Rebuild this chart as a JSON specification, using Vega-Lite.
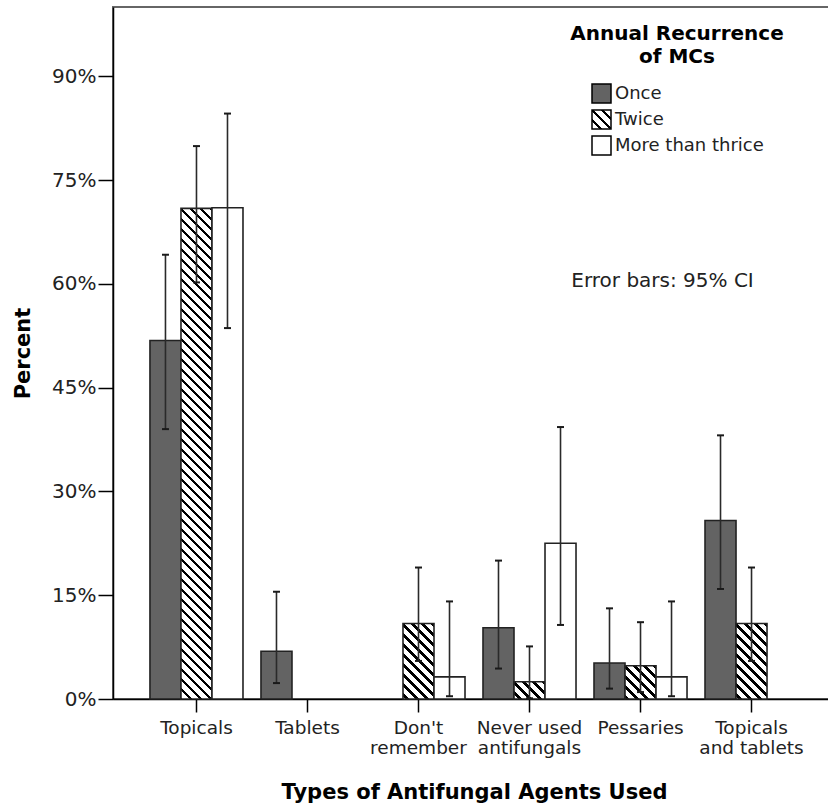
{
  "$schema": "https://vega.github.io/schema/vega-lite/v6.json",
  "width": 722,
  "height": 692,
  "autosize": {"type": "none"},
  "padding": {"left": 113, "top": 7, "right": 0, "bottom": 108},
  "background": "white",
  "config": {
    "font": "DejaVu Sans",
    "view": {"stroke": "#666", "strokeWidth": 2},
    "axis": {"grid": false, "domainColor": "#000", "domainWidth": 1.5, "tickColor": "#000", "tickWidth": 1.5, "labelColor": "#222", "titleColor": "#000", "labelFont": "DejaVu Sans", "titleFont": "DejaVu Sans", "titleFontWeight": "bold"}
  },
  "data": {"values": [
    {"Agent": "Topicals", "Recurrence": "Once", "Percent": 51.8, "Lo": 39.0, "Hi": 64.2},
    {"Agent": "Topicals", "Recurrence": "Twice", "Percent": 70.9, "Lo": 60.2, "Hi": 79.9},
    {"Agent": "Topicals", "Recurrence": "More than thrice", "Percent": 71.0, "Lo": 53.6, "Hi": 84.6},
    {"Agent": "Tablets", "Recurrence": "Once", "Percent": 6.9, "Lo": 2.3, "Hi": 15.5},
    {"Agent": "Don't remember", "Recurrence": "Twice", "Percent": 10.9, "Lo": 5.5, "Hi": 19.0},
    {"Agent": "Don't remember", "Recurrence": "More than thrice", "Percent": 3.2, "Lo": 0.4, "Hi": 14.1},
    {"Agent": "Never used antifungals", "Recurrence": "Once", "Percent": 10.3, "Lo": 4.4, "Hi": 20.0},
    {"Agent": "Never used antifungals", "Recurrence": "Twice", "Percent": 2.5, "Lo": 0.1, "Hi": 7.6},
    {"Agent": "Never used antifungals", "Recurrence": "More than thrice", "Percent": 22.5, "Lo": 10.7, "Hi": 39.3},
    {"Agent": "Pessaries", "Recurrence": "Once", "Percent": 5.2, "Lo": 1.5, "Hi": 13.1},
    {"Agent": "Pessaries", "Recurrence": "Twice", "Percent": 4.8, "Lo": 1.0, "Hi": 11.1},
    {"Agent": "Pessaries", "Recurrence": "More than thrice", "Percent": 3.2, "Lo": 0.4, "Hi": 14.1},
    {"Agent": "Topicals and tablets", "Recurrence": "Once", "Percent": 25.8, "Lo": 15.9, "Hi": 38.1},
    {"Agent": "Topicals and tablets", "Recurrence": "Twice", "Percent": 10.9, "Lo": 5.5, "Hi": 19.0}
  ]},
  "layer": [
    {
      "mark": {"type": "bar", "stroke": "#222", "strokeWidth": 1.6},
      "encoding": {
        "x": {"field": "Agent", "type": "nominal", "title": "Types of Antifungal Agents Used",
              "sort": ["Topicals", "Tablets", "Don't remember", "Never used antifungals", "Pessaries", "Topicals and tablets"],
              "scale": {"domain": ["Topicals", "Tablets", "Don't remember", "Never used antifungals", "Pessaries", "Topicals and tablets"], "paddingInner": 0, "paddingOuter": 0.252},
              "axis": {"labelAngle": 0, "labelFontSize": 18.5, "labelLineHeight": 20, "tickSize": 13, "labelPadding": 6, "titleFontSize": 21, "titlePadding": 25, "labelLimit": 0,
                       "labelExpr": "datum.value == \"Don't remember\" ? [\"Don't\", 'remember'] : datum.value == 'Never used antifungals' ? ['Never used', 'antifungals'] : datum.value == 'Topicals and tablets' ? ['Topicals', 'and tablets'] : datum.value"}},
        "xOffset": {"field": "Recurrence", "type": "nominal", "scale": {"domain": ["Once", "Twice", "More than thrice"], "paddingInner": 0, "paddingOuter": 0.29}},
        "y": {"field": "Percent", "type": "quantitative", "title": "Percent",
              "scale": {"domain": [0, 100], "nice": false},
              "axis": {"values": [0, 15, 30, 45, 60, 75, 90], "labelExpr": "datum.value + '%'", "labelFontSize": 20, "tickSize": 15, "labelPadding": 2, "titleFontSize": 21, "titlePadding": 18}},
        "fill": {
          "field": "Recurrence", "type": "nominal",
          "scale": {"domain": ["Once", "Twice", "More than thrice"],
                    "range": ["#636363", {"expr": "{gradient:'linear',x1:1,y1:0,x2:0,y2:1,stops:[{offset:0,color:'#000'},{offset:0.02,color:'#000'},{offset:0.02,color:'#fff'},{offset:0.191,color:'#fff'},{offset:0.191,color:'#000'},{offset:0.283,color:'#000'},{offset:0.283,color:'#fff'},{offset:0.454,color:'#fff'},{offset:0.454,color:'#000'},{offset:0.546,color:'#000'},{offset:0.546,color:'#fff'},{offset:0.717,color:'#fff'},{offset:0.717,color:'#000'},{offset:0.809,color:'#000'},{offset:0.809,color:'#fff'},{offset:0.98,color:'#fff'},{offset:0.98,color:'#000'},{offset:1,color:'#000'}]}"}, "#ffffff"]},
          "legend": {"orient": "none", "legendX": 457, "legendY": 17, "title": ["Annual Recurrence", "of MCs"], "titleFontSize": 20, "titleFontWeight": "bold", "titleColor": "#000", "titleAlign": "center", "titleAnchor": "middle", "titleBaseline": "top", "titleLineHeight": 23, "titlePadding": 16, "titleLimit": 0, "titleFont": "DejaVu Sans", "symbolType": "square", "symbolSize": 361, "symbolStrokeColor": "#000", "symbolStrokeWidth": 1.5, "symbolOffset": 0, "labelOffset": 3, "labelFontSize": 18, "labelColor": "#222", "labelFont": "DejaVu Sans", "rowPadding": 1, "padding": 0},
          "condition": [
            {"test": "datum.Recurrence === 'Twice' && datum.Percent > 50", "value": {"gradient": "linear", "x1": 1, "y1": 0, "x2": 0.9331, "y2": 1.059, "stops": [
              {"offset":0,"color":"#000"},{"offset":0.0067,"color":"#000"},{"offset":0.0067,"color":"#fff"},{"offset":0.0192,"color":"#fff"},
              {"offset":0.0192,"color":"#000"},{"offset":0.0259,"color":"#000"},{"offset":0.0259,"color":"#fff"},{"offset":0.0383,"color":"#fff"},
              {"offset":0.0383,"color":"#000"},{"offset":0.045,"color":"#000"},{"offset":0.045,"color":"#fff"},{"offset":0.0575,"color":"#fff"},
              {"offset":0.0575,"color":"#000"},{"offset":0.0642,"color":"#000"},{"offset":0.0642,"color":"#fff"},{"offset":0.0767,"color":"#fff"},
              {"offset":0.0767,"color":"#000"},{"offset":0.0834,"color":"#000"},{"offset":0.0834,"color":"#fff"},{"offset":0.0959,"color":"#fff"},
              {"offset":0.0959,"color":"#000"},{"offset":0.1026,"color":"#000"},{"offset":0.1026,"color":"#fff"},{"offset":0.115,"color":"#fff"},
              {"offset":0.115,"color":"#000"},{"offset":0.1217,"color":"#000"},{"offset":0.1217,"color":"#fff"},{"offset":0.1342,"color":"#fff"},
              {"offset":0.1342,"color":"#000"},{"offset":0.1409,"color":"#000"},{"offset":0.1409,"color":"#fff"},{"offset":0.1534,"color":"#fff"},
              {"offset":0.1534,"color":"#000"},{"offset":0.1601,"color":"#000"},{"offset":0.1601,"color":"#fff"},{"offset":0.1725,"color":"#fff"},
              {"offset":0.1725,"color":"#000"},{"offset":0.1792,"color":"#000"},{"offset":0.1792,"color":"#fff"},{"offset":0.1917,"color":"#fff"},
              {"offset":0.1917,"color":"#000"},{"offset":0.1984,"color":"#000"},{"offset":0.1984,"color":"#fff"},{"offset":0.2109,"color":"#fff"},
              {"offset":0.2109,"color":"#000"},{"offset":0.2176,"color":"#000"},{"offset":0.2176,"color":"#fff"},{"offset":0.2301,"color":"#fff"},
              {"offset":0.2301,"color":"#000"},{"offset":0.2368,"color":"#000"},{"offset":0.2368,"color":"#fff"},{"offset":0.2492,"color":"#fff"},
              {"offset":0.2492,"color":"#000"},{"offset":0.2559,"color":"#000"},{"offset":0.2559,"color":"#fff"},{"offset":0.2684,"color":"#fff"},
              {"offset":0.2684,"color":"#000"},{"offset":0.2751,"color":"#000"},{"offset":0.2751,"color":"#fff"},{"offset":0.2876,"color":"#fff"},
              {"offset":0.2876,"color":"#000"},{"offset":0.2943,"color":"#000"},{"offset":0.2943,"color":"#fff"},{"offset":0.3067,"color":"#fff"},
              {"offset":0.3067,"color":"#000"},{"offset":0.3134,"color":"#000"},{"offset":0.3134,"color":"#fff"},{"offset":0.3259,"color":"#fff"},
              {"offset":0.3259,"color":"#000"},{"offset":0.3326,"color":"#000"},{"offset":0.3326,"color":"#fff"},{"offset":0.3451,"color":"#fff"},
              {"offset":0.3451,"color":"#000"},{"offset":0.3518,"color":"#000"},{"offset":0.3518,"color":"#fff"},{"offset":0.3643,"color":"#fff"},
              {"offset":0.3643,"color":"#000"},{"offset":0.371,"color":"#000"},{"offset":0.371,"color":"#fff"},{"offset":0.3834,"color":"#fff"},
              {"offset":0.3834,"color":"#000"},{"offset":0.3901,"color":"#000"},{"offset":0.3901,"color":"#fff"},{"offset":0.4026,"color":"#fff"},
              {"offset":0.4026,"color":"#000"},{"offset":0.4093,"color":"#000"},{"offset":0.4093,"color":"#fff"},{"offset":0.4218,"color":"#fff"},
              {"offset":0.4218,"color":"#000"},{"offset":0.4285,"color":"#000"},{"offset":0.4285,"color":"#fff"},{"offset":0.441,"color":"#fff"},
              {"offset":0.441,"color":"#000"},{"offset":0.4477,"color":"#000"},{"offset":0.4477,"color":"#fff"},{"offset":0.4601,"color":"#fff"},
              {"offset":0.4601,"color":"#000"},{"offset":0.4668,"color":"#000"},{"offset":0.4668,"color":"#fff"},{"offset":0.4793,"color":"#fff"},
              {"offset":0.4793,"color":"#000"},{"offset":0.486,"color":"#000"},{"offset":0.486,"color":"#fff"},{"offset":0.4985,"color":"#fff"},
              {"offset":0.4985,"color":"#000"},{"offset":0.5052,"color":"#000"},{"offset":0.5052,"color":"#fff"},{"offset":0.5176,"color":"#fff"},
              {"offset":0.5176,"color":"#000"},{"offset":0.5243,"color":"#000"},{"offset":0.5243,"color":"#fff"},{"offset":0.5368,"color":"#fff"},
              {"offset":0.5368,"color":"#000"},{"offset":0.5435,"color":"#000"},{"offset":0.5435,"color":"#fff"},{"offset":0.556,"color":"#fff"},
              {"offset":0.556,"color":"#000"},{"offset":0.5627,"color":"#000"},{"offset":0.5627,"color":"#fff"},{"offset":0.5752,"color":"#fff"},
              {"offset":0.5752,"color":"#000"},{"offset":0.5819,"color":"#000"},{"offset":0.5819,"color":"#fff"},{"offset":0.5943,"color":"#fff"},
              {"offset":0.5943,"color":"#000"},{"offset":0.601,"color":"#000"},{"offset":0.601,"color":"#fff"},{"offset":0.6135,"color":"#fff"},
              {"offset":0.6135,"color":"#000"},{"offset":0.6202,"color":"#000"},{"offset":0.6202,"color":"#fff"},{"offset":0.6327,"color":"#fff"},
              {"offset":0.6327,"color":"#000"},{"offset":0.6394,"color":"#000"},{"offset":0.6394,"color":"#fff"},{"offset":0.6518,"color":"#fff"},
              {"offset":0.6518,"color":"#000"},{"offset":0.6585,"color":"#000"},{"offset":0.6585,"color":"#fff"},{"offset":0.671,"color":"#fff"},
              {"offset":0.671,"color":"#000"},{"offset":0.6777,"color":"#000"},{"offset":0.6777,"color":"#fff"},{"offset":0.6902,"color":"#fff"},
              {"offset":0.6902,"color":"#000"},{"offset":0.6969,"color":"#000"},{"offset":0.6969,"color":"#fff"},{"offset":0.7094,"color":"#fff"},
              {"offset":0.7094,"color":"#000"},{"offset":0.7161,"color":"#000"},{"offset":0.7161,"color":"#fff"},{"offset":0.7285,"color":"#fff"},
              {"offset":0.7285,"color":"#000"},{"offset":0.7352,"color":"#000"},{"offset":0.7352,"color":"#fff"},{"offset":0.7477,"color":"#fff"},
              {"offset":0.7477,"color":"#000"},{"offset":0.7544,"color":"#000"},{"offset":0.7544,"color":"#fff"},{"offset":0.7669,"color":"#fff"},
              {"offset":0.7669,"color":"#000"},{"offset":0.7736,"color":"#000"},{"offset":0.7736,"color":"#fff"},{"offset":0.786,"color":"#fff"},
              {"offset":0.786,"color":"#000"},{"offset":0.7927,"color":"#000"},{"offset":0.7927,"color":"#fff"},{"offset":0.8052,"color":"#fff"},
              {"offset":0.8052,"color":"#000"},{"offset":0.8119,"color":"#000"},{"offset":0.8119,"color":"#fff"},{"offset":0.8244,"color":"#fff"},
              {"offset":0.8244,"color":"#000"},{"offset":0.8311,"color":"#000"},{"offset":0.8311,"color":"#fff"},{"offset":0.8436,"color":"#fff"},
              {"offset":0.8436,"color":"#000"},{"offset":0.8503,"color":"#000"},{"offset":0.8503,"color":"#fff"},{"offset":0.8627,"color":"#fff"},
              {"offset":0.8627,"color":"#000"},{"offset":0.8694,"color":"#000"},{"offset":0.8694,"color":"#fff"},{"offset":0.8819,"color":"#fff"},
              {"offset":0.8819,"color":"#000"},{"offset":0.8886,"color":"#000"},{"offset":0.8886,"color":"#fff"},{"offset":0.9011,"color":"#fff"},
              {"offset":0.9011,"color":"#000"},{"offset":0.9078,"color":"#000"},{"offset":0.9078,"color":"#fff"},{"offset":0.9202,"color":"#fff"},
              {"offset":0.9202,"color":"#000"},{"offset":0.9269,"color":"#000"},{"offset":0.9269,"color":"#fff"},{"offset":0.9394,"color":"#fff"},
              {"offset":0.9394,"color":"#000"},{"offset":0.9461,"color":"#000"},{"offset":0.9461,"color":"#fff"},{"offset":0.9586,"color":"#fff"},
              {"offset":0.9586,"color":"#000"},{"offset":0.9653,"color":"#000"},{"offset":0.9653,"color":"#fff"},{"offset":0.9778,"color":"#fff"},
              {"offset":0.9778,"color":"#000"},{"offset":0.9845,"color":"#000"},{"offset":0.9845,"color":"#fff"},{"offset":0.9969,"color":"#fff"},
              {"offset":0.9969,"color":"#000"},{"offset":1,"color":"#000"}
            ]}},
            {"test": "datum.Recurrence === 'Twice' && datum.Percent > 8", "value": {"gradient": "linear", "x1": 1, "y1": 0, "x2": 0.5037, "y2": 1.2071, "stops": [
              {"offset":0,"color":"#000"},{"offset":0.0329,"color":"#000"},{"offset":0.0329,"color":"#fff"},{"offset":0.094,"color":"#fff"},
              {"offset":0.094,"color":"#000"},{"offset":0.1269,"color":"#000"},{"offset":0.1269,"color":"#fff"},{"offset":0.188,"color":"#fff"},
              {"offset":0.188,"color":"#000"},{"offset":0.2209,"color":"#000"},{"offset":0.2209,"color":"#fff"},{"offset":0.282,"color":"#fff"},
              {"offset":0.282,"color":"#000"},{"offset":0.3149,"color":"#000"},{"offset":0.3149,"color":"#fff"},{"offset":0.3759,"color":"#fff"},
              {"offset":0.3759,"color":"#000"},{"offset":0.4088,"color":"#000"},{"offset":0.4088,"color":"#fff"},{"offset":0.4699,"color":"#fff"},
              {"offset":0.4699,"color":"#000"},{"offset":0.5028,"color":"#000"},{"offset":0.5028,"color":"#fff"},{"offset":0.5639,"color":"#fff"},
              {"offset":0.5639,"color":"#000"},{"offset":0.5968,"color":"#000"},{"offset":0.5968,"color":"#fff"},{"offset":0.6579,"color":"#fff"},
              {"offset":0.6579,"color":"#000"},{"offset":0.6908,"color":"#000"},{"offset":0.6908,"color":"#fff"},{"offset":0.7519,"color":"#fff"},
              {"offset":0.7519,"color":"#000"},{"offset":0.7848,"color":"#000"},{"offset":0.7848,"color":"#fff"},{"offset":0.8459,"color":"#fff"},
              {"offset":0.8459,"color":"#000"},{"offset":0.8788,"color":"#000"},{"offset":0.8788,"color":"#fff"},{"offset":0.9398,"color":"#fff"},
              {"offset":0.9398,"color":"#000"},{"offset":0.9727,"color":"#000"},{"offset":0.9727,"color":"#fff"},{"offset":1,"color":"#fff"}
            ]}},
            {"test": "datum.Recurrence === 'Twice' && datum.Percent > 4", "value": {"gradient": "linear", "x1": 1, "y1": 0, "x2": 0.0354, "y2": 1.033, "stops": [
              {"offset":0,"color":"#000"},{"offset":0.0545,"color":"#000"},{"offset":0.0545,"color":"#fff"},{"offset":0.1558,"color":"#fff"},
              {"offset":0.1558,"color":"#000"},{"offset":0.2103,"color":"#000"},{"offset":0.2103,"color":"#fff"},{"offset":0.3115,"color":"#fff"},
              {"offset":0.3115,"color":"#000"},{"offset":0.366,"color":"#000"},{"offset":0.366,"color":"#fff"},{"offset":0.4673,"color":"#fff"},
              {"offset":0.4673,"color":"#000"},{"offset":0.5218,"color":"#000"},{"offset":0.5218,"color":"#fff"},{"offset":0.6231,"color":"#fff"},
              {"offset":0.6231,"color":"#000"},{"offset":0.6776,"color":"#000"},{"offset":0.6776,"color":"#fff"},{"offset":0.7788,"color":"#fff"},
              {"offset":0.7788,"color":"#000"},{"offset":0.8333,"color":"#000"},{"offset":0.8333,"color":"#fff"},{"offset":0.9346,"color":"#fff"},
              {"offset":0.9346,"color":"#000"},{"offset":0.9891,"color":"#000"},{"offset":0.9891,"color":"#fff"},{"offset":1,"color":"#fff"}
            ]}},
            {"test": "datum.Recurrence === 'Twice'", "value": {"gradient": "linear", "x1": 1, "y1": 0, "x2": -0.1881, "y2": 0.663, "stops": [
              {"offset":0,"color":"#000"},{"offset":0.0725,"color":"#000"},{"offset":0.0725,"color":"#fff"},{"offset":0.207,"color":"#fff"},
              {"offset":0.207,"color":"#000"},{"offset":0.2795,"color":"#000"},{"offset":0.2795,"color":"#fff"},{"offset":0.4141,"color":"#fff"},
              {"offset":0.4141,"color":"#000"},{"offset":0.4866,"color":"#000"},{"offset":0.4866,"color":"#fff"},{"offset":0.6211,"color":"#fff"},
              {"offset":0.6211,"color":"#000"},{"offset":0.6936,"color":"#000"},{"offset":0.6936,"color":"#fff"},{"offset":0.8282,"color":"#fff"},
              {"offset":0.8282,"color":"#000"},{"offset":0.9006,"color":"#000"},{"offset":0.9006,"color":"#fff"},{"offset":1,"color":"#fff"}
            ]}}
          ]
        }
      }
    },
    {
      "mark": {"type": "rule", "color": "#2a2a2a", "strokeWidth": 1.6},
      "encoding": {
        "x": {"field": "Agent", "type": "nominal", "title": "Types of Antifungal Agents Used"},
        "xOffset": {"field": "Recurrence", "type": "nominal"},
        "y": {"field": "Lo", "type": "quantitative", "title": "Percent"},
        "y2": {"field": "Hi"}
      }
    },
    {
      "mark": {"type": "tick", "color": "#1a1a1a", "thickness": 2, "size": 7, "opacity": 1},
      "encoding": {
        "x": {"field": "Agent", "type": "nominal", "title": "Types of Antifungal Agents Used"},
        "xOffset": {"field": "Recurrence", "type": "nominal"},
        "y": {"field": "Lo", "type": "quantitative", "title": "Percent"}
      }
    },
    {
      "mark": {"type": "tick", "color": "#1a1a1a", "thickness": 2, "size": 7, "opacity": 1},
      "encoding": {
        "x": {"field": "Agent", "type": "nominal", "title": "Types of Antifungal Agents Used"},
        "xOffset": {"field": "Recurrence", "type": "nominal"},
        "y": {"field": "Hi", "type": "quantitative", "title": "Percent"}
      }
    },
    {
      "data": {"values": [{"note": "Error bars: 95% CI"}]},
      "mark": {"type": "text", "fontSize": 20, "color": "#222", "align": "center", "baseline": "middle", "dx": 22},
      "encoding": {
        "x": {"datum": "Pessaries", "type": "nominal", "title": "Types of Antifungal Agents Used"},
        "y": {"datum": 60.4, "type": "quantitative", "title": "Percent"},
        "text": {"field": "note"}
      }
    }
  ]
}
